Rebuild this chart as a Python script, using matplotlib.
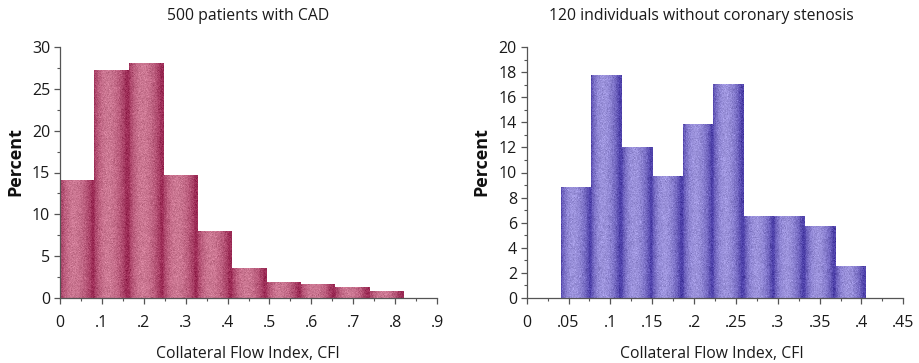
import numpy as np
import matplotlib
matplotlib.use("Agg")
import matplotlib.pyplot as plt
from matplotlib.colors import to_rgb
from matplotlib.ticker import MultipleLocator

plt.rcParams['font.family'] = ['Open Sans', 'DejaVu Sans']

# Histogram of CFI, 500 patients with CAD
cad_edges = [0.0, 0.082, 0.164, 0.246, 0.328, 0.41, 0.492, 0.574, 0.656, 0.738, 0.82]
cad_percent = [14.0, 27.2, 28.0, 14.6, 7.9, 3.55, 1.87, 1.63, 1.31, 0.8]
cad_xticks = [0, .1, .2, .3, .4, .5, .6, .7, .8, .9]
cad_xlabels = ["0", ".1", ".2", ".3", ".4", ".5", ".6", ".7", ".8", ".9"]
cad_yticks = [0, 5, 10, 15, 20, 25, 30]

# Histogram of CFI, 120 individuals without coronary stenosis
nor_edges = [0.041, 0.0774, 0.1138, 0.1502, 0.1866, 0.223, 0.2594, 0.2958, 0.3322, 0.3686, 0.405]
nor_percent = [8.8, 17.7, 12.0, 9.7, 13.8, 17.0, 6.5, 6.5, 5.7, 2.5]
nor_xticks = [0, .05, .1, .15, .2, .25, .3, .35, .4, .45]
nor_xlabels = ["0", ".05", ".1", ".15", ".2", ".25", ".3", ".35", ".4", ".45"]
nor_yticks = [0, 2, 4, 6, 8, 10, 12, 14, 16, 18, 20]

titles = ["500 patients with CAD", "120 individuals without coronary stenosis"]
xlabel = "Collateral Flow Index, CFI"
ylabel = "Percent"

W, H = 920, 363
fig = plt.figure(figsize=(W / 100, H / 100), dpi=100)
rng = np.random.default_rng(7)


def shaded_bars(ax, edges, heights, dark, light):
    """Draw histogram bars with a soft cylindrical shading and fine grain."""
    dark = np.array(to_rgb(dark))
    light = np.array(to_rgb(light))
    n = 48
    t = (np.arange(n) + 0.5) / n
    u = np.clip(t / 0.92, 0, 1) ** 0.85
    prof = np.sin(np.pi * u) ** 0.8
    for x0, x1, h in zip(edges[:-1], edges[1:], heights):
        rows = max(int(h * 12), 4)
        grad = dark[None, None, :] + (light - dark)[None, None, :] * prof[None, :, None]
        grad = np.repeat(grad, rows, axis=0)
        grain = rng.normal(0, 0.035, size=(rows, n, 1))
        img = np.clip(grad + grain, 0, 1)
        ax.imshow(img, extent=[x0, x1, 0, h], aspect='auto',
                  interpolation='nearest', zorder=2, origin='lower')


def style_axes(ax, xlim, ylim, xticks, xlabels, yticks, xminor, yminor):
    ax.set_xlim(*xlim)
    ax.set_ylim(*ylim)
    for s in ('top', 'right'):
        ax.spines[s].set_visible(False)
    for s in ('left', 'bottom'):
        ax.spines[s].set_color('#555555')
        ax.spines[s].set_linewidth(0.9)
    ax.set_xticks(xticks)
    ax.set_xticklabels(xlabels)
    ax.set_yticks(yticks)
    ax.xaxis.set_minor_locator(MultipleLocator(xminor))
    ax.yaxis.set_minor_locator(MultipleLocator(yminor))
    ax.tick_params(axis='both', which='major', direction='out', length=4,
                   width=0.9, color='#555555', labelsize=11.5,
                   labelcolor='#1a1a1a')
    ax.tick_params(axis='x', which='major', pad=8)
    ax.tick_params(axis='y', which='major', pad=3)
    ax.tick_params(axis='both', which='minor', direction='out', length=2.5,
                   width=0.8, color='#555555')


ax1 = fig.add_axes([60 / W, 65 / H, 377 / W, 251 / H])
shaded_bars(ax1, cad_edges, cad_percent, '#9c2c56', '#cc7893')
style_axes(ax1, (0, 0.9), (0, 30), cad_xticks, cad_xlabels, cad_yticks, 0.05, 2.5)

ax2 = fig.add_axes([526.7 / W, 65 / H, 376.6 / W, 251 / H])
shaded_bars(ax2, nor_edges, nor_percent, '#4f42aa', '#9c93dc')
style_axes(ax2, (0, 0.45), (0, 20), nor_xticks, nor_xlabels, nor_yticks, 0.025, 1)

# Titles, axis labels
txt = dict(ha='center', va='center', fontsize=11.3, color='#1a1a1a')
fig.text(248 / W, 1 - 16 / H, titles[0], **txt)
fig.text(701 / W, 1 - 16 / H, titles[1], **txt)
fig.text(248 / W, 1 - 354 / H, xlabel, **txt)
fig.text(712 / W, 1 - 354 / H, xlabel, **txt)
fig.text(15 / W, 1 - 162 / H, ylabel, ha='center', va='center', rotation=90,
         fontsize=13, fontweight='bold', color='#111111')
fig.text(481 / W, 1 - 162 / H, ylabel, ha='center', va='center', rotation=90,
         fontsize=13, fontweight='bold', color='#111111')

fig.savefig("out.png", dpi=100)
